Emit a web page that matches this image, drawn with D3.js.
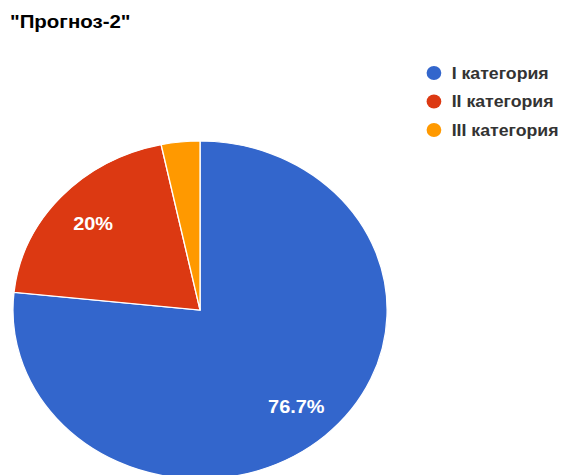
<!DOCTYPE html>
<html>
<head>
<meta charset="utf-8">
<script src="https://cdn.jsdelivr.net/npm/d3@7"></script>
<style>
  body { margin: 0; background: #fff; }
  text { font-family: "Liberation Sans", Arial, sans-serif; }
</style>
</head>
<body>
<svg id="PieChart"></svg>
<script>
const chartTitle = "\"Прогноз-2\"";
const categories = ["I категория", "II категория", "III категория"];
const counts = [23, 6, 1];
const colors = ["#3366cc", "#dc3912", "#ff9900"];

const svgWidth = 570;
const svgHeight = 475;
// the picture is a bit wider than tall, so everything is stretched on x
const stretchX = 1.107;
const radius = 169;
const cx = 180.7;
const cy = 310;

const svg = d3.select("#PieChart")
    .attr("width", svgWidth)
    .attr("height", svgHeight);

const chart = svg.append("g")
    .attr("transform", "scale(" + stretchX + ",1)");

// Title
chart.append("text")
    .attr("x", 9)
    .attr("y", 28)
    .attr("font-size", 18.5)
    .attr("font-weight", "bold")
    .attr("fill", "#000")
    .text(chartTitle);

const total = d3.sum(counts);
const pie = d3.pie().sort(null).value(d => d);
const arcs = pie(counts);

const arc = d3.arc().innerRadius(0).outerRadius(radius);
const labelArc = d3.arc().innerRadius(130).outerRadius(130);

const pieGroup = chart.append("g")
    .attr("transform", "translate(" + cx + "," + cy + ")");

pieGroup.selectAll(".slice")
    .data(arcs)
    .enter().append("path")
    .attr("class", "slice")
    .attr("d", arc)
    .attr("fill", (d, i) => colors[i])
    .attr("stroke", "#fff")
    .attr("stroke-width", 1.2);

// percentage labels, the tiny slice gets none
pieGroup.selectAll(".slice-label")
    .data(arcs.filter(d => d.value / total > 0.05))
    .enter().append("text")
    .attr("class", "slice-label")
    .attr("transform", d => "translate(" + labelArc.centroid(d) + ")")
    .attr("text-anchor", "middle")
    .attr("dy", "0.36em")
    .attr("font-size", 18)
    .attr("font-weight", "bold")
    .attr("fill", "#fff")
    .text(d => d3.format(".3~r")(d.value / total * 100) + "%");

// Legend
const legendY = d3.scalePoint()
    .domain(categories)
    .range([73, 130]);

const legend = chart.selectAll(".legend")
    .data(categories)
    .enter().append("g")
    .attr("class", "legend")
    .attr("transform", d => "translate(392," + legendY(d) + ")");

legend.append("ellipse")
    .attr("rx", 7 / stretchX * 1.05)
    .attr("ry", 7)
    .attr("fill", (d, i) => colors[i]);

legend.append("text")
    .attr("x", 16)
    .attr("dy", "0.36em")
    .attr("font-size", 16)
    .attr("font-weight", "bold")
    .attr("fill", "#333")
    .text(d => d);
</script>
</body>
</html>
